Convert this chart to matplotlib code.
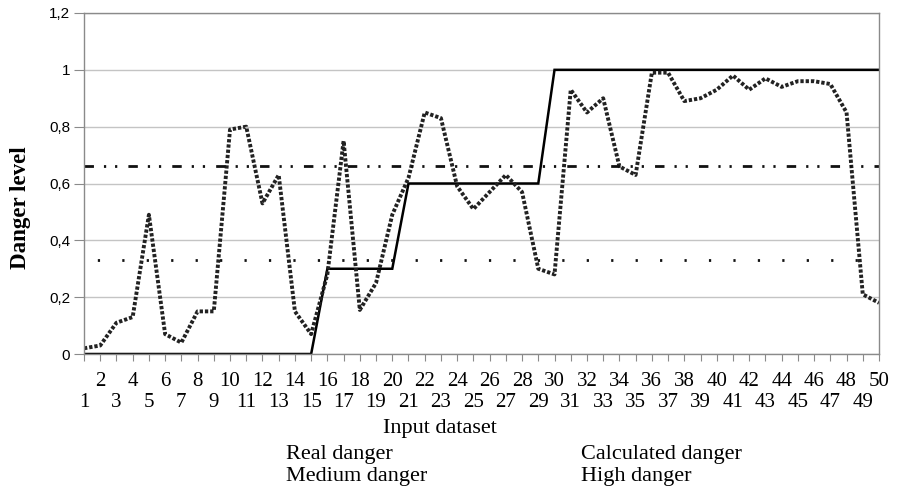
import matplotlib
matplotlib.use("Agg")
import matplotlib.pyplot as plt
import numpy as np

# datasets 1..50
dataset = list(range(1, 51))

# real danger level (solid)
real_danger = [0] * 15 + [0.3] * 5 + [0.6] * 9 + [1] * 21

# calculated danger level (thick dotted)
calc_danger = [0.02, 0.03, 0.11, 0.13, 0.49, 0.07, 0.04, 0.15, 0.15, 0.79,
               0.80, 0.53, 0.63, 0.15, 0.07, 0.28, 0.75, 0.155, 0.25, 0.49,
               0.62, 0.85, 0.83, 0.59, 0.51, 0.57, 0.63, 0.57, 0.30, 0.28,
               0.93, 0.85, 0.90, 0.66, 0.63, 0.99, 0.99, 0.89, 0.90, 0.93,
               0.98, 0.93, 0.97, 0.94, 0.96, 0.96, 0.95, 0.85, 0.21, 0.18]

medium_level = 0.33
high_level = 0.66

y_ticks = [0, 0.2, 0.4, 0.6, 0.8, 1, 1.2]
y_labels = ["0", "0,2", "0,4", "0,6", "0,8", "1", "1,2"]

W, H = 899, 492
fig = plt.figure(figsize=(W / 100, H / 100), dpi=100)
ax = fig.add_axes([84 / W, 1 - 354 / H, (879 - 84) / W, (354 - 13) / H])

serif = "Liberation Serif"
sans = "Liberation Sans"

l_real, = ax.plot(dataset, real_danger, color="black", lw=1.8, solid_joinstyle="miter")
l_calc, = ax.plot(dataset, calc_danger, color="#222222", lw=2.8,
                  linestyle=(0, (0.85, 0.5)), dash_capstyle="butt")
l_med, = ax.plot([1, 50], [medium_level, medium_level], color="#111111", lw=2,
                 linestyle=(4, (0.8, 8.0)))
l_high, = ax.plot([1, 50], [high_level, high_level], color="#111111", lw=2,
                  linestyle=(0, (3.4, 3.6, 0.8, 3.2, 0.8, 4.0)))

ax.set_xlim(1, 50)
ax.set_ylim(0, 1.2)

# axis look
for s in ax.spines.values():
    s.set_color("#8a8a8a")
    s.set_linewidth(1)
ax.set_yticks(y_ticks)
ax.set_yticklabels(y_labels, fontfamily=sans, fontsize=11)
ax.yaxis.grid(True, color="#c4c4c4", lw=1)
ax.set_axisbelow(True)
ax.tick_params(axis="y", length=7, color="#8a8a8a", pad=3)

# staggered x labels: even numbers on the first row (major), odd on the second (minor)
even = [i for i in dataset if i % 2 == 0]
odd = [i for i in dataset if i % 2 == 1]
ax.set_xticks(even)
ax.set_xticklabels([str(i) for i in even], fontfamily=serif, fontsize=15)
ax.set_xticks(odd, minor=True)
ax.set_xticklabels([str(i) for i in odd], minor=True, fontfamily=serif, fontsize=15)
ax.tick_params(axis="x", which="major", length=5, color="#8a8a8a", pad=8)
ax.tick_params(axis="x", which="minor", length=5, color="#8a8a8a", pad=23, width=0.8)

fig.text(21 / W, 1 - 208 / H, "Danger level", fontfamily=serif, fontsize=16.5,
         fontweight="bold", rotation=90, ha="center", va="center")
fig.text(440 / W, 1 - 428 / H, "Input dataset", fontfamily=serif, fontsize=16,
         ha="center", va="center")

leg = fig.legend([l_real, l_med, l_calc, l_high],
                 ["Real danger", "Medium danger", "Calculated danger", "High danger"],
                 ncol=2, loc="upper left", bbox_to_anchor=(286 / W, 1 - 443 / H),
                 frameon=False, handlelength=0, handletextpad=0, borderpad=0,
                 borderaxespad=0, columnspacing=6.9, labelspacing=0.1,
                 prop={"family": serif, "size": 16})
for h in leg.legend_handles:
    h.set_visible(False)

fig.savefig("out.png", dpi=100)
